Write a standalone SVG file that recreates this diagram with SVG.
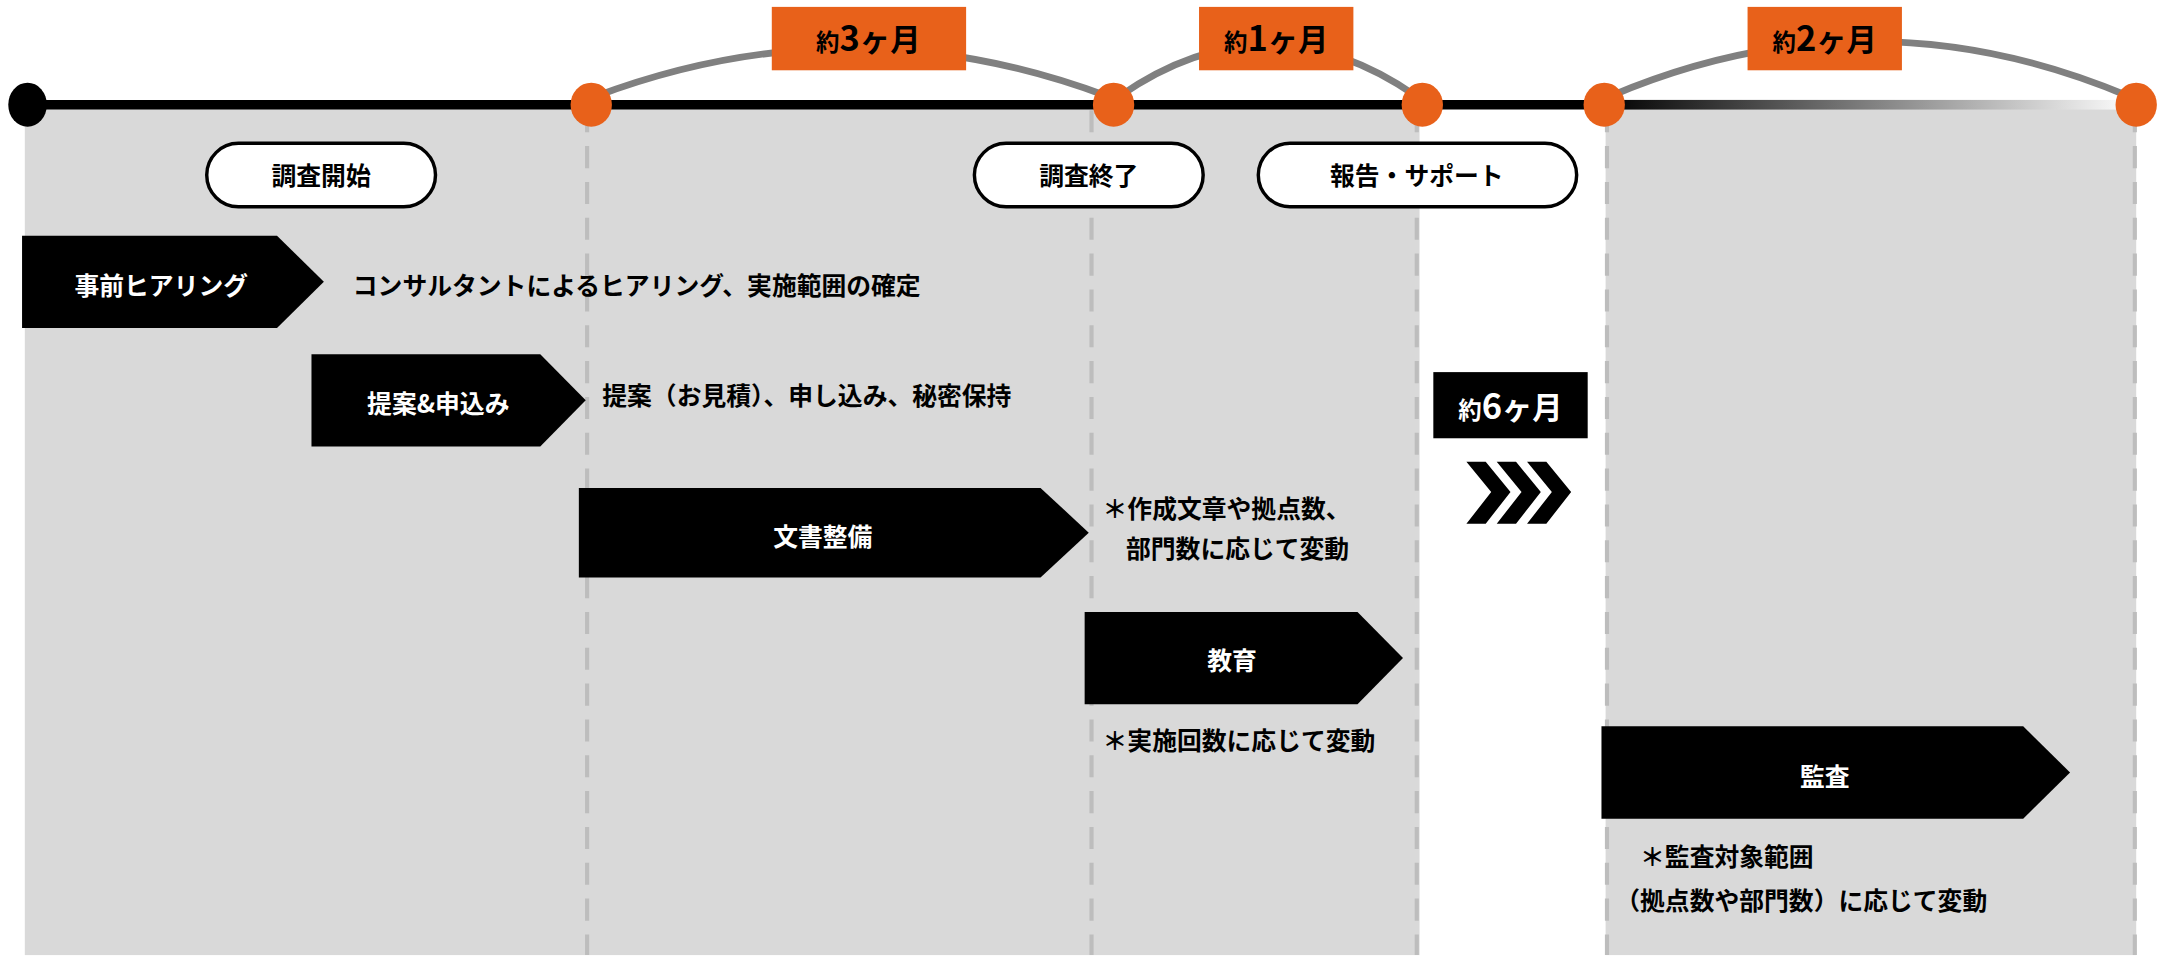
<svg xmlns="http://www.w3.org/2000/svg" width="2161" height="961" viewBox="0 0 2161 961">
<style>
text{font-family:"Noto Sans CJK JP","Noto Sans",sans-serif;font-weight:700;font-size:18px}
.w{fill:#fff}.c{text-anchor:middle}
.pill{fill:#fff;stroke:#000;stroke-width:2.5}
.dash{stroke:#bdbdbd;stroke-width:3;stroke-dasharray:16,10}
.arc{fill:none;stroke:#808080;stroke-width:5}
.od{fill:#e8611a}
.lab{fill:#e8611a}
</style>
<defs><linearGradient id="g" x1="0" x2="1"><stop offset="0" stop-color="#000"/><stop offset="1" stop-color="#fff"/></linearGradient></defs>
<rect width="2161" height="961" fill="#fff"/>
<g transform="scale(1.3782)">
<g id="panels">
<rect x="18" y="76" width="1012" height="617" fill="#d9d9d9"/>
<rect x="1165" y="76" width="385" height="617" fill="#d9d9d9"/>
</g>
<g id="connectors">
<line class="dash" x1="426" y1="80" x2="426" y2="693"/>
<line class="dash" x1="792" y1="80" x2="792" y2="693"/>
<line class="dash" x1="1028" y1="80" x2="1028" y2="693"/>
<line class="dash" x1="1166" y1="80" x2="1166" y2="693"/>
<line class="dash" x1="1549" y1="80" x2="1549" y2="693"/>
<path class="arc" d="M432 70 Q618 0 804 70"/>
<path class="arc" d="M812 70 Q920 -5 1028 70"/>
<path class="arc" d="M1168 70 Q1356 -10 1545 70"/>
<line x1="20" y1="76" x2="1163" y2="76" stroke="#000" stroke-width="7"/>
<rect x="1163" y="72.5" width="387" height="7" fill="url(#g)"/>
</g>
<g id="dots">
<ellipse cx="20" cy="76" rx="14" ry="16"/>
<ellipse class="od" cx="429" cy="76" rx="15" ry="16"/>
<ellipse class="od" cx="808" cy="76" rx="15" ry="16"/>
<ellipse class="od" cx="1032" cy="76" rx="15" ry="16"/>
<ellipse class="od" cx="1164" cy="76" rx="15" ry="16"/>
<ellipse class="od" cx="1550" cy="76" rx="15" ry="16"/>
</g>
<g id="labels">
<rect class="lab" x="560" y="5" width="141" height="46"/><text x="630" y="37" class="c"><tspan font-size="17">約</tspan><tspan font-size="25">3</tspan><tspan font-size="22">ヶ月</tspan></text>
<rect class="lab" x="870" y="5" width="112" height="46"/><text x="926" y="37" class="c"><tspan font-size="17">約</tspan><tspan font-size="25">1</tspan><tspan font-size="22">ヶ月</tspan></text>
<rect class="lab" x="1268" y="5" width="112" height="46"/><text x="1324" y="37" class="c"><tspan font-size="17">約</tspan><tspan font-size="25">2</tspan><tspan font-size="22">ヶ月</tspan></text>
<rect x="1040" y="270" width="112" height="48"/><text x="1096" y="304" class="c w"><tspan font-size="17">約</tspan><tspan font-size="25">6</tspan><tspan font-size="22">ヶ月</tspan></text>
<path d="M1064 335h14l18 22l-18 23h-14l18 -23z M1086 335h14l18 22l-18 23h-14l18 -23z M1108 335h14l18 22l-18 23h-14l18 -23z" transform="translate(0,0)"/>
</g>
<g id="pills">
<rect class="pill" x="150" y="104" width="166" height="46" rx="23"/><text x="233" y="134" class="c">調査開始</text>
<rect class="pill" x="707" y="104" width="166" height="46" rx="23"/><text x="790" y="134" class="c">調査終了</text>
<rect class="pill" x="913" y="104" width="231" height="46" rx="23"/><text x="1028" y="134" class="c">報告・サポート</text>
</g>
<g id="steps">
<path d="M16 171H201L235 204.5L201 238H16Z"/><text x="117" y="214" class="c w" font-size="20">事前ヒアリング</text>
<path d="M226 257H392L425 290.5L392 324H226Z"/><text x="318" y="300" class="c w" font-size="20">提案&amp;申込み</text>
<path d="M420 354H755L790 386.5L755 419H420Z"/><text x="597" y="396" class="c w" font-size="20">文書整備</text>
<path d="M787 444H985L1018 477.5L985 511H787Z"/><text x="894" y="486" class="c w" font-size="20">教育</text>
<path d="M1162 527H1468L1502 560.5L1468 594H1162Z"/><text x="1324" y="570" class="c w" font-size="20">監査</text>
</g>
<g id="notes">
<text x="256" y="214">コンサルタントによるヒアリング、実施範囲の確定</text>
<text x="437" y="294">提案（お見積）、申し込み、秘密保持</text>
<text x="800" y="376">＊作成文章や拠点数、</text>
<text x="817" y="405">部門数に応じて変動</text>
<text x="800" y="544">＊実施回数に応じて変動</text>
<text x="1190" y="628">＊監査対象範囲</text>
<text x="1172" y="660">（拠点数や部門数）に応じて変動</text>
</g>
</g>
</svg>
